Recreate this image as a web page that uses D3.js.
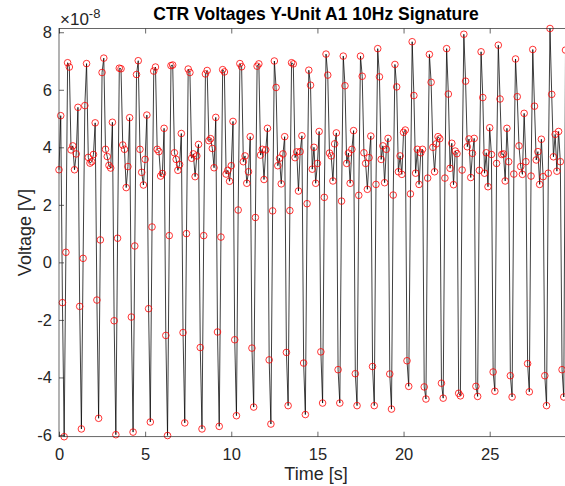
<!DOCTYPE html>
<html>
<head>
<meta charset="utf-8">
<script src="https://cdn.jsdelivr.net/npm/d3@7"></script>
<style>
  body { margin: 0; background: #fff; }
  svg { display: block; font-family: "Liberation Sans", Arial, sans-serif; }
</style>
</head>
<body>
<svg id="chart"></svg>
<script>
// samples taken at 10 Hz, one row per second (values in units of 1e-8 V)
const sampleRate = 10;
const volts = [
    3.22, 5.10, -1.40, -6.06, 0.35, 6.94, 6.79, 3.91, 4.05, 3.22,
    3.77, 5.39, -1.53, -5.79, 0.14, 5.45, 6.91, 3.65, 3.45, 3.50,
    3.75, 4.85, -1.31, -5.42, 0.78, 6.60, 7.10, 3.93, 3.68, 3.37,
    3.28, 4.87, -2.03, -5.99, 0.84, 6.75, 6.73, 4.08, 3.93, 2.60,
    3.33, 5.03, -1.90, -5.90, 0.57, 6.53, 7.01, 3.93, 3.13, 2.69,
    3.58, 5.12, -1.61, -5.55, 1.23, 6.65, 6.79, 3.93, 3.85, 3.00,
    3.09, 4.66, -2.54, -6.02, 0.93, 6.84, 6.86, 3.81, 3.58, 3.20,
    3.40, 4.48, -2.44, -5.58, 1.00, 6.72, 6.60, 3.62, 3.77, 2.98,
    3.70, 4.10, -2.96, -5.79, 0.93, 6.55, 6.67, 4.23, 4.30, 3.96,
    3.29, 5.04, -2.42, -5.70, 0.88, 6.70, 6.62, 3.07, 3.20, 2.82,
    3.36, 4.90, -2.69, -5.33, 1.82, 6.91, 6.80, 3.50, 3.70, 2.75,
    3.15, 4.37, -2.98, -5.03, 1.56, 6.82, 6.90, 3.73, 3.93, 2.88,
    3.91, 4.66, -3.39, -5.62, 1.79, 7.00, 6.08, 3.36, 3.62, 2.73,
    3.77, 4.37, -3.13, -4.98, 1.80, 6.94, 6.90, 3.64, 3.84, 2.48,
    3.85, 4.40, -3.50, -5.29, 2.04, 6.68, 6.16, 3.24, 4.00, 2.75,
    3.44, 4.55, -3.11, -4.89, 2.26, 7.24, 6.51, 3.80, 3.70, 2.83,
    4.12, 4.50, -3.73, -4.89, 2.13, 7.17, 6.14, 3.44, 3.80, 2.75,
    3.93, 4.58, -3.87, -4.98, 2.33, 7.17, 6.47, 3.81, 3.44, 2.54,
    3.64, 4.39, -3.62, -4.98, 2.71, 7.43, 6.45, 3.58, 4.05, 2.77,
    3.93, 4.31, -3.88, -5.10, 2.34, 6.88, 6.10, 3.15, 3.70, 3.06,
    4.52, 4.60, -3.42, -4.31, 2.38, 7.67, 5.80, 3.10, 3.93, 2.71,
    3.81, 3.93, -4.33, -4.75, 2.93, 7.23, 6.26, 4.00, 3.15, 4.12,
    4.37, 4.30, -4.20, -4.72, 2.93, 7.43, 5.85, 3.27, 4.14, 2.70,
    3.87, 3.78, -4.55, -4.64, 3.21, 7.93, 6.30, 4.02, 4.29, 2.95,
    3.79, 4.31, -4.31, -4.66, 3.20, 7.32, 5.73, 3.10, 3.81, 2.63,
    4.68, 3.75, -3.81, -4.48, 3.44, 7.55, 5.68, 3.75, 3.77, 2.83,
    4.66, 3.50, -3.94, -4.68, 3.07, 7.07, 5.76, 4.05, 3.33, 3.06,
    5.18, 3.50, -3.52, -4.50, 3.00, 7.40, 5.43, 3.56, 3.85, 2.71,
    4.28, 2.98, -3.94, -4.98, 3.10, 8.13, 5.84, 3.67, 4.45, 3.17,
    4.55, 3.50, -3.73, -4.68, 7.38
];
const xTicks = [0, 5, 10, 15, 20, 25];
const yTicks = [-6, -4, -2, 0, 2, 4, 6, 8];
const titleText = 'CTR Voltages Y-Unit A1 10Hz Signature';
const xLabel = 'Time [s]';
const yLabel = 'Voltage [V]';

const width = 565;
const height = 486;
const margin = { left: 59, right: -0.5, top: 28.5, bottom: 49.3 };
const innerWidth = width - margin.left - margin.right;
const innerHeight = height - margin.top - margin.bottom;
const axisColor = '#262626';
const tickFont = '16.5px';

const points = volts.map((v, i) => ({ t: i / sampleRate, v: v }));

let svg = d3.select('#chart')
    .attr('width', width)
    .attr('height', height);

let xScale = d3.scaleLinear()
    .domain(d3.extent(points, d => d.t))
    .range([0, innerWidth]);
let yScale = d3.scaleLinear()
    .domain(d3.extent(points, d => d.v))
    .range([innerHeight, 0]);

let focus = svg.append('g')
    .attr('transform', `translate(${margin.left}, ${margin.top})`);

// data line and markers
let line = d3.line()
    .x(d => xScale(d.t))
    .y(d => yScale(d.v));

focus.append('path')
    .datum(points)
    .attr('fill', 'none')
    .attr('stroke', '#000')
    .attr('stroke-width', 0.75)
    .attr('d', line);

focus.append('g')
    .selectAll('circle')
    .data(points)
    .enter().append('circle')
    .attr('cx', d => xScale(d.t))
    .attr('cy', d => yScale(d.v))
    .attr('r', 3.3)
    .attr('fill', 'none')
    .attr('stroke', '#ff0000')
    .attr('stroke-width', 0.8);

// axes (ticks point inward, box on)
let xAxis = d3.axisBottom(xScale).tickValues(xTicks).tickSizeInner(-5).tickSizeOuter(0).tickPadding(12);
let xAxisTop = d3.axisTop(xScale).tickValues(xTicks).tickSizeInner(-5).tickSizeOuter(0);
let yAxis = d3.axisLeft(yScale).tickValues(yTicks).tickSizeInner(-5).tickSizeOuter(0);

let gx = focus.append('g')
    .attr('transform', `translate(0, ${innerHeight})`)
    .call(xAxis);
let gxTop = focus.append('g').call(xAxisTop);
gxTop.selectAll('text').remove();
let gy = focus.append('g').call(yAxis);
gy.selectAll('text').remove();

[gx, gxTop, gy].forEach(g => {
    g.select('.domain').remove();
    g.attr('font-size', null);
    g.selectAll('line').attr('stroke', axisColor).attr('stroke-width', 0.7);
    g.selectAll('text')
        .attr('fill', axisColor)
        .style('font-size', tickFont)
        .style('font-family', '"Liberation Sans", Arial, sans-serif');
});

// y tick labels placed in page coordinates
svg.append('g')
    .selectAll('text')
    .data(yTicks)
    .enter().append('text')
    .attr('x', margin.left - 7)
    .attr('y', d => margin.top + yScale(d))
    .attr('dy', '0.35em')
    .attr('text-anchor', 'end')
    .attr('fill', axisColor)
    .style('font-size', tickFont)
    .text(d => d);

focus.append('rect')
    .attr('x', 0)
    .attr('y', 0)
    .attr('width', innerWidth)
    .attr('height', innerHeight)
    .attr('fill', 'none')
    .attr('stroke', axisColor)
    .attr('stroke-width', 0.7);

// exponent label
let expo = svg.append('text')
    .attr('x', margin.left + 1)
    .attr('y', 25)
    .attr('fill', axisColor)
    .style('font-size', '17px');
expo.append('tspan').text('\u00d710');
expo.append('tspan').attr('dy', -7).style('font-size', '13px').text('-8');

// title and axis labels
svg.append('text')
    .attr('x', 316)
    .attr('y', 20)
    .attr('text-anchor', 'middle')
    .style('font-size', '17.5px')
    .style('font-weight', 'bold')
    .attr('fill', '#000')
    .text(titleText);

svg.append('text')
    .attr('x', 316)
    .attr('y', 480)
    .attr('text-anchor', 'middle')
    .style('font-size', '18px')
    .attr('fill', axisColor)
    .text(xLabel);

svg.append('text')
    .attr('transform', `translate(31, ${margin.top + innerHeight / 2}) rotate(-90)`)
    .attr('text-anchor', 'middle')
    .style('font-size', '18px')
    .attr('fill', axisColor)
    .text(yLabel);
</script>
</body>
</html>
